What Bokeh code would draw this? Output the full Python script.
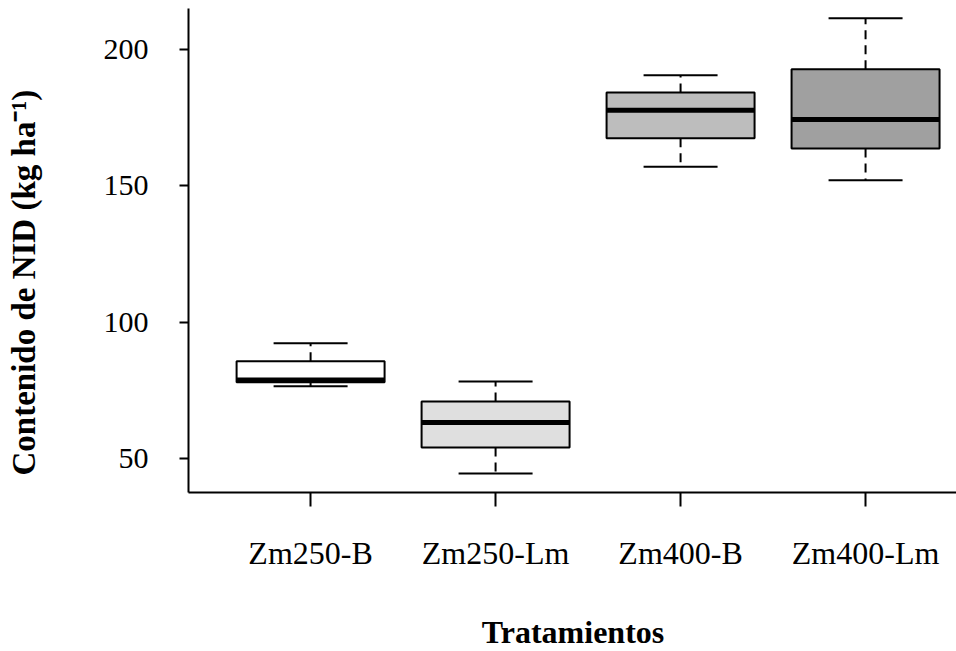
from bokeh.plotting import figure
from bokeh.models import Range1d, FixedTicker, ColumnDataSource, Title
from bokeh.embed import file_html
from bokeh.resources import INLINE

categories = ["Zm250-B", "Zm250-Lm", "Zm400-B", "Zm400-Lm"]
lower_whisker = [76.5, 44.5, 157.0, 152.0]
q1 = [77.9, 54.0, 167.4, 163.7]
median = [78.8, 63.2, 177.7, 174.3]
q3 = [85.6, 70.9, 184.2, 192.7]
upper_whisker = [92.2, 78.2, 190.5, 211.4]
fills = ["#ffffff", "#dfdfdf", "#bdbdbd", "#a0a0a0"]
y_ticks = [50, 100, 150, 200]

FONT = "Liberation Serif"
BOX_W = 0.8
CAP_W = 0.4

xs = list(range(1, len(categories) + 1))
src = ColumnDataSource(dict(
    x=xs, lo=lower_whisker, q1=q1, med=median, q3=q3, hi=upper_whisker, fill=fills,
    bx0=[x - BOX_W / 2 for x in xs], bx1=[x + BOX_W / 2 for x in xs],
    cx0=[x - CAP_W / 2 for x in xs], cx1=[x + CAP_W / 2 for x in xs],
))

p = figure(frame_width=769, frame_height=484, output_backend="svg", toolbar_location=None,
           x_range=Range1d(0.34, 4.497), y_range=Range1d(37.5, 215.0),
           min_border_left=187, min_border_right=0, min_border_top=8, min_border_bottom=159)
p.outline_line_color = None
p.grid.visible = False
p.background_fill_color = "white"
p.border_fill_color = "white"

# whiskers (dashed)
p.segment(x0="x", y0="q3", x1="x", y1="hi", source=src, line_color="black", line_width=2, line_dash="9 6")
p.segment(x0="x", y0="q1", x1="x", y1="lo", source=src, line_color="black", line_width=2, line_dash="9 6")
# caps
p.segment(x0="cx0", y0="hi", x1="cx1", y1="hi", source=src, line_color="black", line_width=2)
p.segment(x0="cx0", y0="lo", x1="cx1", y1="lo", source=src, line_color="black", line_width=2)
# boxes
p.vbar(x="x", width=BOX_W, bottom="q1", top="q3", source=src, fill_color="fill",
       line_color="black", line_width=2)
# medians
p.segment(x0="bx0", y0="med", x1="bx1", y1="med", source=src, line_color="black", line_width=5)

p.xaxis.ticker = FixedTicker(ticks=xs)
p.xaxis.major_label_overrides = {x: c for x, c in zip(xs, categories)}
p.yaxis.ticker = FixedTicker(ticks=y_ticks)
p.xaxis.minor_tick_line_color = None
p.yaxis.minor_tick_line_color = None

for ax in (p.xaxis, p.yaxis):
    ax.axis_line_color = "black"
    ax.axis_line_width = 2
    ax.major_tick_line_color = "black"
    ax.major_tick_line_width = 2
    ax.major_tick_in = 0
    ax.major_label_text_font = FONT
    ax.major_label_text_color = "black"
    ax.axis_label_text_font = FONT
    ax.axis_label_text_font_style = "bold"
    ax.axis_label_text_color = "black"

p.xaxis.major_tick_out = 14
p.xaxis.major_label_standoff = 28
p.xaxis.major_label_text_font_size = "32px"
p.xaxis.axis_label = "Tratamientos"
p.xaxis.axis_label_text_font_size = "32px"
p.xaxis.axis_label_standoff = 40

p.yaxis.major_tick_out = 9
p.yaxis.major_label_standoff = 31
p.yaxis.major_label_text_font_size = "30px"
# tiny blank axis label used only as a spacer before the side title
p.yaxis.axis_label = " "
p.yaxis.axis_label_text_font_size = "1px"
p.yaxis.axis_label_standoff = 52

ytitle = Title(text="Contenido de NID (kg ha\u207b\u00b9)", align="left", offset=17,
               standoff=6, text_font=FONT, text_font_style="bold",
               text_font_size="33px", text_color="black")
p.add_layout(ytitle, "left")

open("out.html", "w").write(file_html(p, INLINE))
